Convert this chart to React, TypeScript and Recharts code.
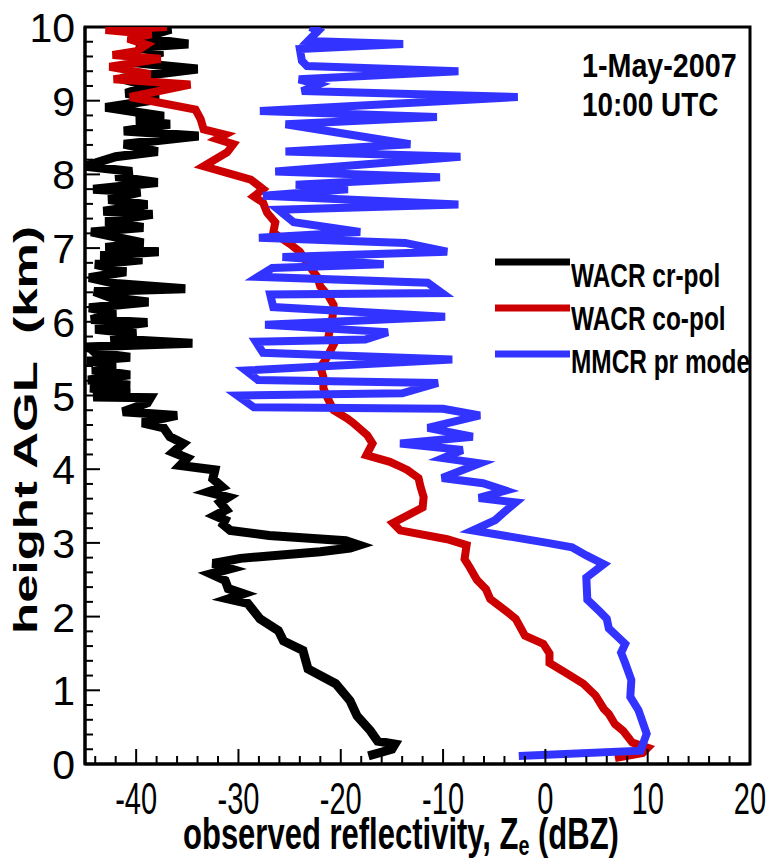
import React from "react";
import { ScatterChart, Scatter, XAxis, YAxis, ReferenceArea } from "recharts";

const FONT = "'Liberation Sans', Arial, Helvetica, sans-serif";
const W = 769;
const H = 863;

// axis ticks: minor every 2 dBZ / 0.2 km, labels on the majors
const xTicks = Array.from({ length: 33 }, (_, i) => -44 + 2 * i);
const xTickLabels = [-40, -30, -20, -10, 0, 10, 20];
const yTicks = Array.from({ length: 51 }, (_, i) => i / 5);
const yTickLabels = [0, 1, 2, 3, 4, 5, 6, 7, 8, 9, 10];

// WACR cross-pol (black)
const crPolHeight = [
  0.11, 0.2, 0.27, 0.31, 0.45, 0.65, 0.86, 1.09, 1.29, 1.54,
  1.67, 1.81, 1.97, 2.18, 2.24, 2.31, 2.38, 2.49, 2.58, 2.65,
  2.72, 2.79, 2.88, 2.93, 2.97, 3.03, 3.1, 3.17, 3.25, 3.31,
  3.37, 3.45, 3.55, 3.62, 3.69, 3.76, 3.87, 3.99, 4.05, 4.15,
  4.23, 4.35, 4.44, 4.56, 4.63, 4.73, 4.78, 4.9, 4.97, 4.98,
  5.03, 5.1, 5.14, 5.21, 5.28, 5.35, 5.41, 5.47, 5.52, 5.58,
  5.66, 5.71, 5.77, 5.84, 5.9, 5.99, 6.03, 6.12, 6.19, 6.27,
  6.33, 6.41, 6.45, 6.52, 6.6, 6.68, 6.78, 6.84, 6.9, 6.95,
  7.01, 7.07, 7.15, 7.22, 7.28, 7.36, 7.46, 7.5, 7.59, 7.66,
  7.76, 7.8, 7.89, 7.97, 8.04, 8.11, 8.24, 8.31, 8.41, 8.52,
  8.59, 8.68, 8.73, 8.79, 8.91, 9.02, 9.1, 9.2, 9.3, 9.43,
  9.52, 9.6, 9.66, 9.72, 9.77, 9.85, 9.97, 10.0,
];
const crPolDbz = [
  -17.3, -15.0, -14.7, -16.4, -17.1, -18.4, -19.1, -20.5, -23.2, -23.7,
  -25.6, -26.1, -27.9, -29.1, -31.0, -29.5, -31.0, -31.3, -32.7, -30.8,
  -32.5, -29.8, -22.0, -19.1, -18.2, -19.5, -27.0, -30.8, -31.5, -31.3,
  -32.3, -31.2, -31.8, -31.0, -33.0, -31.6, -32.5, -32.3, -35.7, -35.0,
  -36.4, -35.4, -36.7, -37.3, -39.4, -36.0, -41.3, -38.9, -38.6, -44.2,
  -40.6, -44.5, -40.6, -44.7, -40.6, -44.3, -42.0, -44.8, -40.6, -44.0,
  -44.6, -34.5, -42.5, -40.0, -44.0, -38.9, -44.4, -42.0, -44.6, -38.8,
  -42.5, -44.1, -35.2, -42.0, -44.6, -41.0, -44.0, -39.4, -43.5, -37.8,
  -43.0, -39.3, -42.0, -44.4, -39.3, -43.0, -38.4, -43.2, -38.9, -42.7,
  -39.6, -44.2, -37.9, -42.0, -40.4, -45.0, -42.0, -37.9, -41.2, -33.9,
  -41.2, -36.7, -40.0, -37.3, -43.0, -37.8, -41.0, -38.8, -41.5, -34.0,
  -40.5, -39.0, -37.4, -40.0, -34.9, -39.5, -36.6, -39.0,
];

// WACR co-pol (red)
const coPolHeight = [
  0.08, 0.15, 0.22, 0.29, 0.45, 0.54, 0.68, 0.75, 0.93, 1.09,
  1.22, 1.37, 1.5, 1.63, 1.74, 1.97, 2.07, 2.24, 2.37, 2.5,
  2.67, 2.78, 2.97, 3.05, 3.17, 3.27, 3.48, 3.62, 3.76, 3.88,
  3.99, 4.05, 4.1, 4.19, 4.35, 4.46, 4.63, 4.69, 4.8, 4.97,
  5.1, 5.25, 5.39, 5.48, 5.69, 5.8, 6.07, 6.23, 6.35, 6.48,
  6.61, 6.78, 6.95, 7.05, 7.21, 7.35, 7.48, 7.62, 7.7, 7.8,
  7.93, 8.0, 8.11, 8.3, 8.41, 8.48, 8.54, 8.61, 8.75, 8.88,
  9.05, 9.22, 9.29, 9.36, 9.46, 9.57, 9.62, 9.67, 9.76, 9.84,
  9.9, 9.96, 10.0,
];
const coPolDbz = [
  6.8, 9.5, 10.0, 8.5, 7.6, 6.8, 6.2, 5.7, 4.9, 3.7,
  2.2, 0.4, 0.4, -0.2, -2.0, -2.9, -3.8, -5.4, -5.8, -6.7,
  -7.4, -7.9, -7.7, -9.6, -14.2, -14.9, -12.0, -11.9, -12.2, -12.4,
  -13.5, -14.4, -15.2, -17.5, -16.9, -17.4, -18.8, -19.4, -20.7, -21.3,
  -21.7, -21.7, -22.0, -21.5, -20.7, -21.2, -20.8, -20.7, -21.2, -22.0,
  -22.3, -23.2, -24.0, -24.9, -26.6, -26.4, -27.2, -27.6, -28.5, -27.6,
  -28.8, -30.6, -33.4, -31.1, -30.5, -32.1, -31.3, -33.4, -33.7, -34.2,
  -40.6, -34.7, -42.2, -38.6, -42.6, -37.6, -42.3, -40.0, -39.0, -40.8,
  -38.5, -43.0, -37.0,
];

// MMCR precipitation mode (blue)
const mmcrHeight = [
  0.11, 0.18, 0.41, 0.73, 0.91, 1.14, 1.37, 1.51, 1.63, 1.84,
  1.97, 2.07, 2.23, 2.53, 2.71, 2.83, 2.94, 3.0, 3.17, 3.31,
  3.41, 3.55, 3.61, 3.71, 3.81, 3.88, 4.08, 4.15, 4.26, 4.35,
  4.44, 4.56, 4.73, 4.82, 4.84, 5.0, 5.03, 5.17, 5.21, 5.34,
  5.49, 5.58, 5.73, 5.76, 5.86, 5.96, 6.07, 6.2, 6.37, 6.39,
  6.53, 6.61, 6.73, 6.78, 6.88, 6.95, 7.07, 7.14, 7.22, 7.35,
  7.52, 7.59, 7.71, 7.8, 7.86, 7.96, 8.04, 8.24, 8.31, 8.41,
  8.68, 8.78, 8.86, 9.05, 9.13, 9.22, 9.29, 9.4, 9.47, 9.54,
  9.7, 9.77, 9.81, 9.95, 10.0,
];
const mmcrDbz = [
  -2.6, 9.3, 9.9, 9.1, 8.3, 8.4, 7.8, 7.4, 7.8, 6.2,
  6.0, 5.3, 4.1, 4.0, 5.7, 4.0, 2.6, 0.2, -7.1, -4.9,
  -4.1, -2.9, -6.5, -3.9, -6.1, -10.1, -6.4, -10.0, -8.1, -14.2,
  -7.1, -11.5, -6.4, -10.0, -28.5, -30.1, -14.0, -10.5, -28.1, -29.3,
  -9.1, -27.6, -28.3, -17.6, -15.4, -27.4, -9.8, -26.6, -26.9, -10.1,
  -11.5, -28.1, -26.7, -15.8, -25.7, -9.6, -13.7, -28.0, -18.1, -24.6,
  -26.1, -8.5, -27.6, -19.3, -24.4, -10.3, -26.4, -8.3, -25.4, -13.2,
  -25.4, -10.6, -27.9, -2.7, -23.8, -22.2, -24.1, -8.5, -23.3, -23.8,
  -24.0, -13.9, -23.2, -22.2, -23.0,
];

const toPoints = (hs: number[], vs: number[]) => hs.map((h, i) => ({ h, v: vs[i] }));

const series = [
  { name: "WACR cr-pol", color: "#000000", data: toPoints(crPolHeight, crPolDbz), width: 9 },
  { name: "WACR co-pol", color: "#cc0000", data: toPoints(coPolHeight, coPolDbz), width: 8 },
  { name: "MMCR pr mode", color: "#3333ff", data: toPoints(mmcrHeight, mmcrDbz), width: 8 },
];

const renderXTick = (props: any) => {
  const { x, y, payload } = props;
  const major = xTickLabels.includes(payload.value);
  return (
    <g>
      <line x1={x} x2={x} y1={y} y2={y - (major ? 15 : 8)} stroke="#000" strokeWidth={2} />
      {major && (
        <g transform={`translate(${x}, ${y + 50}) scale(0.66, 1)`}>
          <text x={0} y={0} textAnchor="middle" fontFamily={FONT} fontSize={44} fill="#000">
            {payload.value}
          </text>
        </g>
      )}
    </g>
  );
};

const renderYTick = (props: any) => {
  const { x, y, payload } = props;
  const major = yTickLabels.includes(payload.value);
  return (
    <g>
      <line x1={x} x2={x + (major ? 15 : 8)} y1={y} y2={y} stroke="#000" strokeWidth={2} />
      {major && (
        <text x={x - 10} y={y} dy={15} textAnchor="end" fontFamily={FONT} fontSize={41} fill="#000">
          {payload.value}
        </text>
      )}
    </g>
  );
};

const renderXTitle = () => (
  <g transform="translate(183, 849) scale(0.705, 1)">
    <text x={0} y={0} fontFamily={FONT} fontSize={44} fontWeight="bold" fill="#000">
      observed reflectivity, Z
      <tspan fontSize={28} dy={6}>e</tspan>
      <tspan dy={-6}> (dBZ)</tspan>
    </text>
  </g>
);

const renderYTitle = () => (
  <g transform="translate(37, 430) rotate(-90) scale(1.5, 1)">
    <text x={0} y={0} textAnchor="middle" fontFamily={FONT} fontSize={34} fontWeight="bold" fill="#000"
      style={{ whiteSpace: "pre" }}>
      {"height AGL  (km)"}
    </text>
  </g>
);

const renderNoPoint = () => <g />;

// condensed bold label, anchored at its left baseline
const Squeezed = ({ x, y, sx, children }: { x: number; y: number; sx: number; children: React.ReactNode }) => (
  <g transform={`translate(${x}, ${y}) scale(${sx}, 1)`}>
    <text x={0} y={0} fontFamily={FONT} fontSize={33} fontWeight="bold" fill="#000">{children}</text>
  </g>
);

// date stamp and line key, drawn over the plot in page pixels
const Annotations = () => (
  <svg width={W} height={H} style={{ position: "absolute", left: 0, top: 0, pointerEvents: "none" }}>
    <Squeezed x={582} y={77} sx={0.87}>1-May-2007</Squeezed>
    <Squeezed x={582} y={116} sx={0.845}>10:00 UTC</Squeezed>
    {series.map((s, i) => (
      <g key={s.name}>
        <line x1={495} x2={570} y1={262 + i * 46} y2={262 + i * 46} stroke={s.color} strokeWidth={7} />
        <Squeezed x={571} y={287 + i * 43} sx={0.74}>{s.name}</Squeezed>
      </g>
    ))}
  </svg>
);

export default function App() {
  return (
    <div style={{ position: "relative", width: W, height: H }}>
      <style>{"body { margin: 0; }"}</style>
      <ScatterChart width={W} height={H} margin={{ top: 27, right: 19, bottom: 0, left: 0 }}>
        <XAxis type="number" dataKey="v" domain={[-45, 20]} ticks={xTicks} interval={0}
          allowDataOverflow height={99} tickSize={0} tickMargin={0} tickLine={false}
          axisLine={{ stroke: "#000", strokeWidth: 3 }} tick={renderXTick}
          label={{ content: renderXTitle }} />
        <YAxis type="number" dataKey="h" domain={[0, 10]} ticks={yTicks} interval={0}
          allowDataOverflow width={85} tickSize={0} tickMargin={0} tickLine={false}
          axisLine={{ stroke: "#000", strokeWidth: 3 }} tick={renderYTick}
          label={{ content: renderYTitle }} />
        {series.map((s) => (
          <Scatter key={s.name} name={s.name} data={s.data} fill={s.color}
            line={{ stroke: s.color, strokeWidth: s.width, strokeLinejoin: "miter" }}
            shape={renderNoPoint} isAnimationActive={false} />
        ))}
        <ReferenceArea x1={-45} x2={20} y1={0} y2={10} fill="none" stroke="#000" strokeWidth={3} />
      </ScatterChart>
      <Annotations />
    </div>
  );
}
